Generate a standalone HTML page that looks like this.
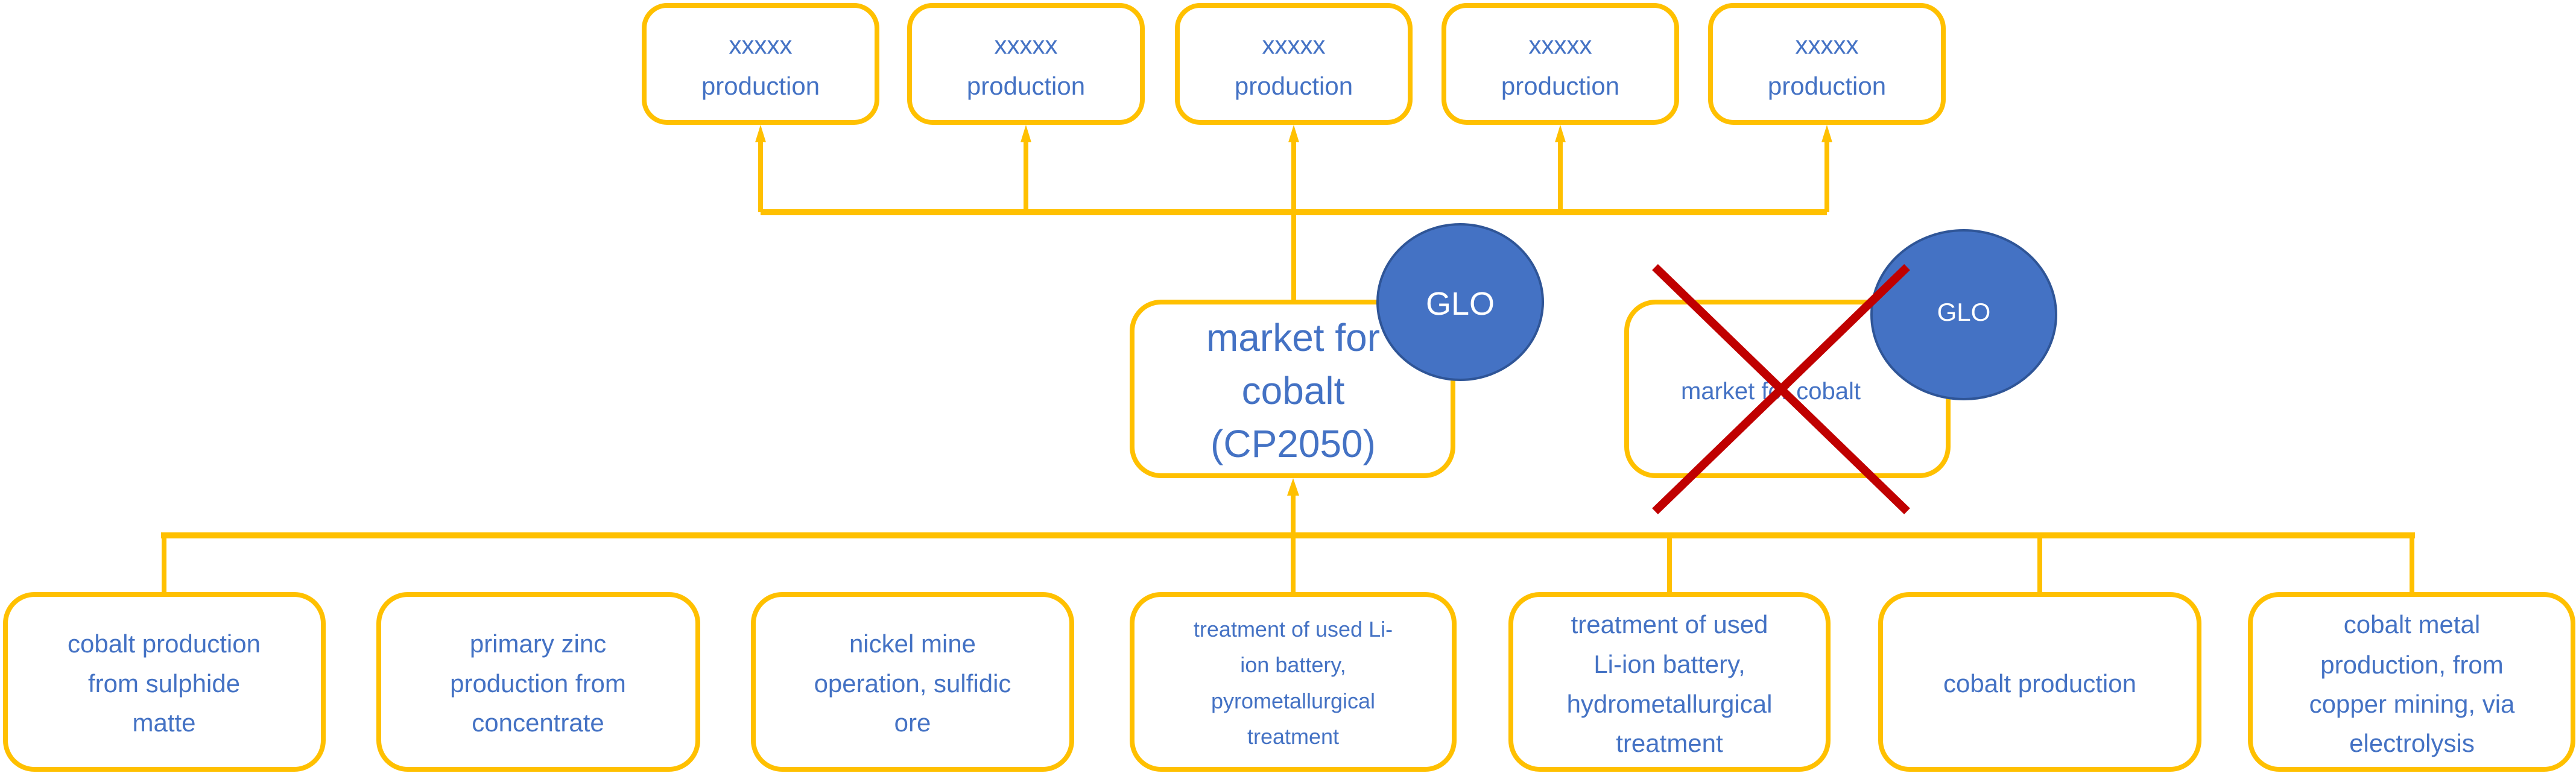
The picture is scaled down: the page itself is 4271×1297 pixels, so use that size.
<!DOCTYPE html>
<html><head><meta charset="utf-8"><style>
html,body{margin:0;padding:0;background:#fff;}
svg{display:block;}
text{font-family:"Liberation Sans",sans-serif;fill:#4472C4;text-anchor:middle;}
</style></head><body>
<svg width="4271" height="1297" viewBox="0 0 4271 1297" xmlns="http://www.w3.org/2000/svg">
<g stroke="#FFC000" fill="none">
  <line x1="1261" y1="352" x2="3029" y2="352" stroke-width="10"/>
  <g stroke-width="8">
    <line x1="1261" y1="352" x2="1261" y2="232"/>
    <line x1="1701" y1="352" x2="1701" y2="232"/>
    <line x1="2145" y1="352" x2="2145" y2="232"/>
    <line x1="2587" y1="352" x2="2587" y2="232"/>
    <line x1="3029" y1="352" x2="3029" y2="232"/>
    <line x1="2145" y1="352" x2="2145" y2="500"/>
  </g>
  <line x1="267" y1="888" x2="4004" y2="888" stroke-width="10"/>
  <g stroke-width="8">
    <line x1="272" y1="888" x2="272" y2="985"/>
    <line x1="2144" y1="888" x2="2144" y2="985"/>
    <line x1="2768" y1="888" x2="2768" y2="985"/>
    <line x1="3382" y1="888" x2="3382" y2="985"/>
    <line x1="3999" y1="888" x2="3999" y2="985"/>
    <line x1="2144" y1="888" x2="2144" y2="818"/>
  </g>
</g>
<g fill="#FFC000">
  <polygon points="1261,207 1252,236 1270,236"/>
  <polygon points="1701,207 1692,236 1710,236"/>
  <polygon points="2145,207 2136,236 2154,236"/>
  <polygon points="2587,207 2578,236 2596,236"/>
  <polygon points="3029,207 3020,236 3038,236"/>
  <polygon points="2144,793 2134,822 2154,822"/>
</g>
<g stroke="#FFC000" stroke-width="8" fill="#fff">
  <rect x="1068" y="9" width="386" height="194" rx="38"/>
  <rect x="1508" y="9" width="386" height="194" rx="38"/>
  <rect x="1952" y="9" width="386" height="194" rx="38"/>
  <rect x="2394" y="9" width="386" height="194" rx="38"/>
  <rect x="2836" y="9" width="386" height="194" rx="38"/>
  <rect x="1877" y="501" width="532" height="288" rx="48"/>
  <rect x="2697" y="501" width="533" height="288" rx="48"/>
  <rect x="9" y="986" width="527" height="290" rx="48"/>
  <rect x="628" y="986" width="529" height="290" rx="48"/>
  <rect x="1249" y="986" width="528" height="290" rx="48"/>
  <rect x="1877" y="986" width="534" height="290" rx="48"/>
  <rect x="2505" y="986" width="526" height="290" rx="48"/>
  <rect x="3118" y="986" width="528" height="290" rx="48"/>
  <rect x="3731" y="986" width="535" height="290" rx="48"/>
</g>
<g font-size="42">
  <text x="1261" y="89">xxxxx</text><text x="1261" y="157">production</text>
  <text x="1701" y="89">xxxxx</text><text x="1701" y="157">production</text>
  <text x="2145" y="89">xxxxx</text><text x="2145" y="157">production</text>
  <text x="2587" y="89">xxxxx</text><text x="2587" y="157">production</text>
  <text x="3029" y="89">xxxxx</text><text x="3029" y="157">production</text>
</g>
<g font-size="64">
  <text x="2144" y="582">market for</text>
  <text x="2144" y="670">cobalt</text>
  <text x="2144" y="758">(CP2050)</text>
</g>
<text x="2936" y="662" font-size="40">market for cobalt</text>
<g font-size="42">
  <text x="272" y="1082">cobalt production</text>
  <text x="272" y="1148">from sulphide</text>
  <text x="272" y="1213">matte</text>
  <text x="892" y="1082">primary zinc</text>
  <text x="892" y="1148">production from</text>
  <text x="892" y="1213">concentrate</text>
  <text x="1513" y="1082">nickel mine</text>
  <text x="1513" y="1148">operation, sulfidic</text>
  <text x="1513" y="1213">ore</text>
  <text x="2768" y="1050">treatment of used</text>
  <text x="2768" y="1116">Li-ion battery,</text>
  <text x="2768" y="1182">hydrometallurgical</text>
  <text x="2768" y="1247">treatment</text>
  <text x="3382" y="1148">cobalt production</text>
  <text x="3999" y="1050">cobalt metal</text>
  <text x="3999" y="1117">production, from</text>
  <text x="3999" y="1182">copper mining, via</text>
  <text x="3999" y="1247">electrolysis</text>
</g>
<g font-size="36">
  <text x="2144" y="1056">treatment of used Li-</text>
  <text x="2144" y="1115">ion battery,</text>
  <text x="2144" y="1175">pyrometallurgical</text>
  <text x="2144" y="1234">treatment</text>
</g>
<ellipse cx="2421" cy="501" rx="137" ry="129" fill="#4472C4" stroke="#2F5597" stroke-width="4"/>
<text x="2421" y="522" font-size="54" style="fill:#fff">GLO</text>
<ellipse cx="3256" cy="522" rx="153" ry="140" fill="#4472C4" stroke="#2F5597" stroke-width="4"/>
<text x="3256" y="532" font-size="42" style="fill:#fff">GLO</text>
<g stroke="#C00000" stroke-width="14">
  <line x1="2744" y1="443" x2="3162" y2="848"/>
  <line x1="3162" y1="443" x2="2744" y2="848"/>
</g>
</svg>
</body></html>
